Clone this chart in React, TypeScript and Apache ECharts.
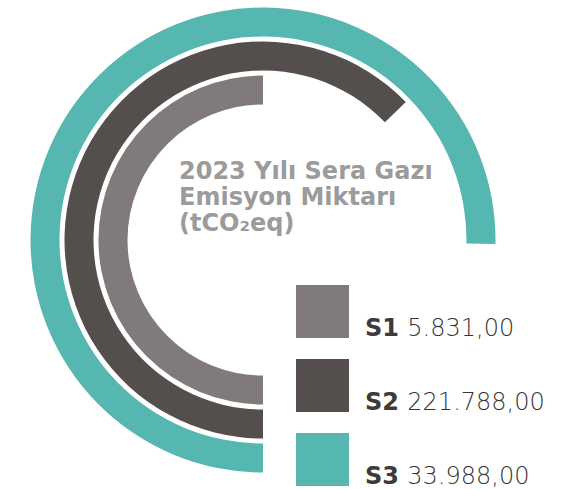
import React, { useEffect, useRef } from "react";
import * as echarts from "echarts";

// Data
const categories = ["S1", "S2", "S3"];
const emissionLabels = ["5.831,00", "221.788,00", "33.988,00"];
const arcDegrees = [180, 226, 271];
const colors = ["#807a7a", "#544f4c", "#56b6b0"];
const titleLines = ["2023 Yılı Sera Gazı", "Emisyon Miktarı", "(tCO₂eq)"];

const FONT = "'DejaVu Sans', sans-serif";

export default function App() {
  const ref = useRef<HTMLDivElement>(null);
  useEffect(() => {
    if (!ref.current) return;
    const chart = echarts.init(ref.current, null, { renderer: "svg" });

    const series = categories.map((name, i) => ({
      type: "bar",
      name,
      coordinateSystem: "polar",
      stack: "rings",
      barWidth: 29,
      silent: true,
      itemStyle: { color: colors[i] },
      data: categories.map((_, j) => (j === i ? arcDegrees[i] : null)),
    }));

    const legendGraphics: any[] = [];
    categories.forEach((name, i) => {
      const top = 285 + i * 74;
      legendGraphics.push({
        type: "rect",
        left: 296,
        top,
        shape: { width: 53, height: 53 },
        style: { fill: colors[i] },
        silent: true,
      });
      legendGraphics.push({
        type: "text",
        x: 365,
        y: top + 55,
        silent: true,
        style: {
          text: `{b|${name} }{v|${emissionLabels[i]}}`,
          textVerticalAlign: "bottom",
          verticalAlign: "bottom",
          rich: {
            b: { fontFamily: FONT, fontSize: 24, fontWeight: "bold", fill: "#3d3b3a", color: "#3d3b3a" },
            v: { fontFamily: FONT, fontSize: 24, fontWeight: 300, fill: "#363433", color: "#363433" },
          },
        },
      });
    });

    chart.setOption({
      animation: false,
      backgroundColor: "#ffffff",
      title: {
        text: titleLines.join("\n"),
        left: 179,
        top: 158,
        padding: 0,
        textStyle: {
          fontFamily: FONT,
          fontSize: 24,
          fontWeight: "bold",
          color: "#9b9b9b",
          lineHeight: 26,
        },
      },
      polar: { center: [263, 240], radius: [133, 235] },
      angleAxis: {
        type: "value",
        min: 0,
        max: 360,
        startAngle: 270,
        clockwise: true,
        show: false,
      },
      radiusAxis: {
        type: "category",
        data: categories,
        show: false,
      },
      series,
      graphic: legendGraphics,
    });
    return () => chart.dispose();
  }, []);
  return (
    <div
      ref={ref}
      style={{ position: "fixed", left: 0, top: 0, width: 573, height: 490 }}
    />
  );
}
